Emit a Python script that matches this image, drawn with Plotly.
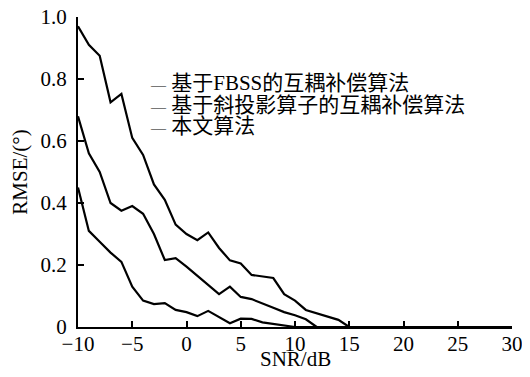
import plotly.graph_objects as go

snr = list(range(-10, 31))

rmse_fbss = [0.97, 0.91, 0.875, 0.725, 0.752, 0.61, 0.555, 0.46, 0.41, 0.33,
             0.30, 0.28, 0.305, 0.255, 0.215, 0.205, 0.168, 0.163, 0.158, 0.106,
             0.085, 0.055, 0.045, 0.035, 0.023, 0.0] + [0.0] * 15
rmse_oblique = [0.68, 0.56, 0.50, 0.40, 0.375, 0.39, 0.365, 0.30, 0.216, 0.222,
                0.195, 0.165, 0.135, 0.106, 0.13, 0.097, 0.09, 0.075, 0.062, 0.048,
                0.038, 0.025, 0.0] + [0.0] * 18
rmse_proposed = [0.45, 0.31, 0.275, 0.24, 0.21, 0.13, 0.085, 0.074, 0.077, 0.055,
                 0.048, 0.035, 0.052, 0.032, 0.012, 0.027, 0.026, 0.015, 0.01, 0.005,
                 0.0] + [0.0] * 20

names = ["基于FBSS的互耦补偿算法", "基于斜投影算子的互耦补偿算法", "本文算法"]
series = [rmse_fbss, rmse_oblique, rmse_proposed]

x_ticks = [-10, -5, 0, 5, 10, 15, 20, 25, 30]
y_ticks = [0, 0.2, 0.4, 0.6, 0.8, 1.0]
y_ticktext = ["0", "0.2", "0.4", "0.6", "0.8", "1.0"]
x_title = "SNR/dB"
y_title = "RMSE/(°)"

serif = "Liberation Serif, Times New Roman, serif"
cjk = "Liberation Serif, Noto Sans CJK SC, serif"

fig = go.Figure()
for name, vals in zip(names, series):
    fig.add_trace(go.Scatter(x=snr, y=vals, mode="lines", name=name,
                             line=dict(color="black", width=2.2),
                             showlegend=False))

# legend drawn as text entries
for i, name in enumerate(names):
    fig.add_annotation(xref="paper", yref="paper", x=0.161, y=0.787 - i * 0.07,
                       xanchor="left", yanchor="middle", showarrow=False,
                       text="<span style='font-size:15px'>—</span> " + name,
                       font=dict(family=cjk, size=21, color="black"))

# x-axis title
fig.add_annotation(xref="paper", yref="paper", x=0.5, y=-0.102, xanchor="center",
                   yanchor="middle", showarrow=False, text=x_title,
                   font=dict(family=serif, size=21, color="black"))

# the page body adds an 8px margin, so the figure is sized/offset to compensate
fig.update_layout(
    width=522, height=369,
    margin=dict(l=70, r=18, t=9, b=50),
    paper_bgcolor="white", plot_bgcolor="white",
    font=dict(family=serif, size=21, color="black"),
    xaxis=dict(range=[-10, 30], tickvals=x_ticks, ticks="inside", ticklen=6,
               tickwidth=1.5, tickcolor="black", showline=True, linecolor="black",
               linewidth=2, showgrid=False, zeroline=False, ticklabelstandoff=-3,
               automargin=False, ticklabeloverflow="allow", tickfont=dict(size=21)),
    yaxis=dict(range=[0, 1.0], tickvals=y_ticks, ticktext=y_ticktext, ticks="inside",
               ticklen=6, tickwidth=1.5, tickcolor="black", showline=True,
               linecolor="black", linewidth=2, showgrid=False, zeroline=False,
               ticklabelstandoff=5, automargin=False, ticklabeloverflow="allow",
               title=dict(text=y_title, standoff=12, font=dict(size=21)),
               tickfont=dict(size=21)),
)

fig.write_html("out.html")
